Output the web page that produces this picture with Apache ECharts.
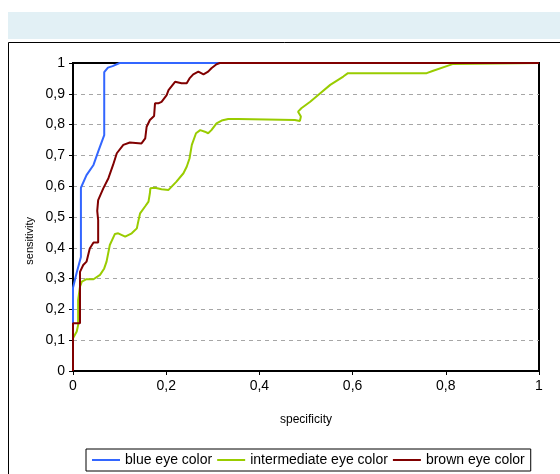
<!DOCTYPE html>
<html>
<head>
<meta charset="utf-8">
<script src="https://cdn.jsdelivr.net/npm/echarts@6/dist/echarts.min.js"></script>
<style>
html,body{margin:0;padding:0;background:#fff;}
#chart{width:560px;height:474px;}
</style>
</head>
<body>
<div id="chart"></div>
<script>
const seriesNames = ['blue eye color', 'intermediate eye color', 'brown eye color'];
const xTicks = [0, 0.2, 0.4, 0.6, 0.8, 1];

const blueSpec = [0, 0, 0.008, 0.017, 0.017, 0.029, 0.044, 0.054, 0.067, 0.067, 0.075, 0.085, 0.1, 1];
const blueSens = [0, 0.27, 0.32, 0.37, 0.595, 0.636, 0.669, 0.712, 0.766, 0.97, 0.985, 0.99, 1, 1];

const interSpec = [0, 0, 0.008, 0.011, 0.011, 0.015, 0.019, 0.029, 0.044, 0.058, 0.067, 0.072, 0.079, 0.09, 0.097, 0.112, 0.126, 0.137, 0.14, 0.144, 0.155, 0.162, 0.165, 0.166, 0.176, 0.19, 0.205, 0.222, 0.237, 0.244, 0.25, 0.255, 0.264, 0.273, 0.283, 0.29, 0.297, 0.308, 0.319, 0.333, 0.355, 0.358, 0.476, 0.487, 0.489, 0.483, 0.49, 0.509, 0.53, 0.552, 0.58, 0.59, 0.759, 0.773, 0.802, 0.816, 0.82, 1];
const interSens = [0, 0.106, 0.128, 0.149, 0.23, 0.274, 0.29, 0.298, 0.298, 0.312, 0.333, 0.355, 0.409, 0.445, 0.447, 0.436, 0.447, 0.463, 0.485, 0.512, 0.535, 0.55, 0.577, 0.593, 0.595, 0.59, 0.588, 0.615, 0.642, 0.663, 0.69, 0.734, 0.772, 0.782, 0.777, 0.772, 0.782, 0.804, 0.813, 0.818, 0.818, 0.815, 0.815, 0.812, 0.826, 0.842, 0.853, 0.874, 0.901, 0.929, 0.956, 0.967, 0.967, 0.975, 0.99, 0.997, 1, 1];

const brownSpec = [0, 0, 0.015, 0.015, 0.022, 0.029, 0.036, 0.044, 0.054, 0.054, 0.052, 0.054, 0.065, 0.076, 0.086, 0.094, 0.108, 0.122, 0.147, 0.155, 0.158, 0.165, 0.174, 0.176, 0.183, 0.19, 0.201, 0.205, 0.219, 0.233, 0.244, 0.25, 0.258, 0.269, 0.28, 0.29, 0.297, 0.308, 0.315, 1];
const brownSens = [0, 0.155, 0.155, 0.322, 0.344, 0.355, 0.398, 0.417, 0.417, 0.49, 0.52, 0.555, 0.593, 0.626, 0.669, 0.707, 0.734, 0.742, 0.739, 0.755, 0.793, 0.815, 0.828, 0.869, 0.869, 0.874, 0.896, 0.912, 0.939, 0.934, 0.934, 0.95, 0.963, 0.972, 0.963, 0.972, 0.983, 0.996, 1, 1];

const colors = ['#3366FF', '#99CC00', '#800000'];

function zip(xs, ys) { return xs.map((x, i) => [x, ys[i]]); }
function fmt(v) { return String(+v.toFixed(1)).replace('.', ','); }

const FONT = 'Liberation Sans';
const chart = echarts.init(document.getElementById('chart'), null, {renderer: 'canvas'});

const allData = [zip(blueSpec, blueSens), zip(interSpec, interSens), zip(brownSpec, brownSens)];

chart.setOption({
  animation: false,
  backgroundColor: '#fff',
  textStyle: {fontFamily: FONT},
  graphic: [
    {type: 'rect', shape: {x: 8, y: 12, width: 552, height: 27}, style: {fill: '#E2F0F5'}, silent: true},
    {type: 'rect', shape: {x: 8.5, y: 42.5, width: 600, height: 500}, style: {fill: 'none', stroke: '#000', lineWidth: 1}, silent: true},
    {type: 'text', left: 24, top: 217, rotation: Math.PI / 2, style: {text: 'sensitivity', font: '11px "Liberation Sans"', fill: '#000', align: 'center', verticalAlign: 'middle'}, silent: true}
  ],
  grid: {left: 73, right: 21, top: 63, bottom: 103, show: true, borderColor: '#000', borderWidth: 2, backgroundColor: 'transparent'},
  legend: {
    left: 86, top: 449,
    data: seriesNames,
    icon: 'rect', itemWidth: 28, itemHeight: 2, itemGap: 5,
    borderColor: '#000', borderWidth: 1, padding: [4, 6, 4, 6],
    textStyle: {fontSize: 14, color: '#000', fontFamily: FONT}
  },
  xAxis: {
    type: 'value', min: 0, max: 1, interval: 0.2,
    name: 'specificity', nameLocation: 'middle', nameGap: 43,
    nameTextStyle: {fontSize: 12, color: '#000', fontFamily: FONT},
    axisLine: {lineStyle: {color: '#000', width: 2}},
    axisTick: {show: true, length: 4, lineStyle: {color: '#000'}},
    axisLabel: {formatter: fmt, fontSize: 14, color: '#000', margin: 8},
    splitLine: {show: false}
  },
  yAxis: {
    type: 'value', min: 0, max: 1, interval: 0.1,
    axisLine: {show: true, lineStyle: {color: '#000', width: 2}},
    axisTick: {show: true, length: 4, lineStyle: {color: '#000'}},
    axisLabel: {formatter: fmt, fontSize: 14, color: '#000', margin: 8},
    splitLine: {show: true, showMinLine: false, showMaxLine: false, lineStyle: {color: '#A6A6A6', type: [4, 4], width: 1}}
  },
  series: seriesNames.map((n, i) => ({
    name: n, type: 'line', data: allData[i], showSymbol: false, symbol: 'none',
    lineStyle: {color: colors[i], width: 2}, itemStyle: {color: colors[i]},
    z: 2 + i
  }))
});
</script>
</body>
</html>
